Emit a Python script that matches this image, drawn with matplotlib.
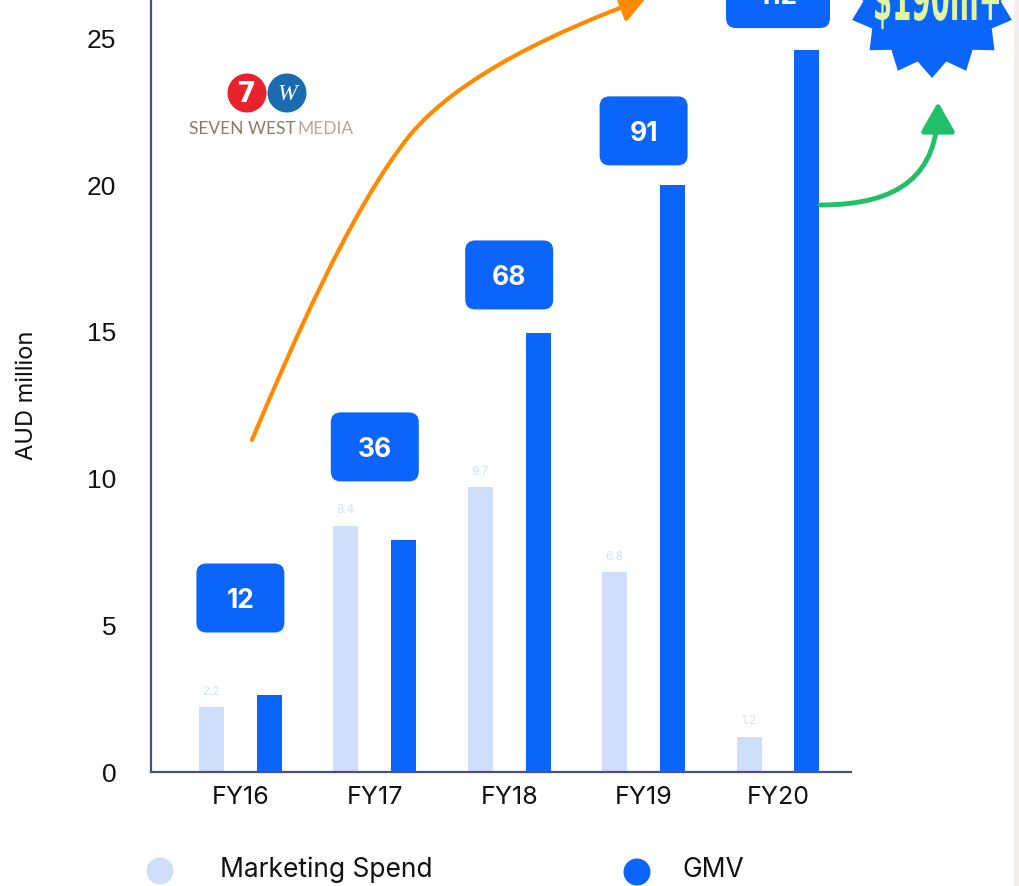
import matplotlib
matplotlib.use("Agg")
import matplotlib.pyplot as plt
import matplotlib.transforms as mtransforms
from matplotlib.patches import FancyBboxPatch, Circle, Polygon, FancyArrowPatch, PathPatch, Rectangle
from matplotlib.path import Path
from matplotlib.textpath import TextPath
from matplotlib.font_manager import FontProperties
import numpy as np

# ---- data -------------------------------------------------------------
years = ["FY16", "FY17", "FY18", "FY19", "FY20"]
marketing_spend = [2.2, 8.4, 9.7, 6.8, 1.2]      # AUD million
gmv = [12, 36, 68, 91, 112]                      # AUD million
gmv_scale = 4.55                                  # GMV drawn on a compressed secondary scale
y_ticks = [0, 5, 10, 15, 20, 25]
target_label = "$190m+"

# ---- style ------------------------------------------------------------
C_LIGHT = "#cfdffb"
C_BLUE = "#0b65fa"
C_AXIS = "#4b4f7e"
C_ORANGE = "#ff8a00"
C_GREEN = "#22bf6a"
FONT = ["Inter", "DejaVu Sans"]

W, H = 1019, 886
fig = plt.figure(figsize=(W / 100, H / 100), dpi=100)

ax_left, ax_right, ax_bottom = 151, 851, 772
ax = fig.add_axes([ax_left / W, 1 - ax_bottom / H, (ax_right - ax_left) / W, ax_bottom / H])
ymax = 26.31
ax.set_ylim(0, ymax)
ax.set_xlim(-0.665, 4.543)

x = np.arange(len(years))
bw = 0.186
off = 0.2155

ax.bar(x - off, marketing_spend, width=bw, color=C_LIGHT, zorder=2)

ax2 = ax.twinx()
ax2.set_ylim(0, ymax * gmv_scale)
ax2.set_xlim(ax.get_xlim())
ax2.bar(x + off, gmv, width=bw, color=C_BLUE, zorder=2)
ax2.axis("off")

for s in ["top", "right"]:
    ax.spines[s].set_visible(False)
for s in ["left", "bottom"]:
    ax.spines[s].set_color(C_AXIS)
    ax.spines[s].set_linewidth(1.6)

ax.set_yticks(y_ticks)
ax.set_yticklabels([str(t) for t in y_ticks], fontsize=19, family="Liberation Sans", color="#111111")
ax.tick_params(axis="y", length=0, pad=25)
ax.set_xticks(x)
ax.set_xticklabels(years, fontsize=18, family=FONT, color="#111111")
ax.tick_params(axis="x", length=0, pad=10)
ax.set_ylabel("AUD million", fontsize=17, family=FONT, color="#111111")
ax.yaxis.set_label_coords(-0.162, 0.488)

# value labels on the marketing bars
for xi, v in zip(x, marketing_spend):
    ax.annotate(f"{v}", (xi - off, v), xytext=(0, 7), textcoords="offset points",
                ha="center", va="bottom", fontsize=8.5, color="#d3e1fb", family=FONT)

# GMV callout boxes
box_y = [5.93, 11.08, 16.94, 21.85, 26.53]
for xi, v, yb in zip(x, gmv, box_y):
    label = f"{v}"
    wpx = 88 if len(label) < 3 else 104
    hpx = 69
    tr = mtransforms.Affine2D() + mtransforms.ScaledTranslation(xi, yb, ax.transData)
    box = FancyBboxPatch((-wpx / 2 + 10, -hpx / 2 + 10), wpx - 20, hpx - 20,
                         boxstyle="round,pad=10", fc=C_BLUE, ec="none",
                         transform=tr, clip_on=False, zorder=5)
    ax.add_patch(box)
    ax.text(xi, yb, label, ha="center", va="center_baseline", fontsize=19,
            fontweight="bold", color="white", family=FONT, zorder=6, clip_on=False)

# ---- decorations in pixel space ------------------------------------------
deco = fig.add_axes([0, 0, 1, 1], zorder=10)
deco.set_xlim(0, W)
deco.set_ylim(H, 0)
deco.axis("off")
deco.patch.set_alpha(0)

# right page edge
deco.add_patch(Rectangle((1014, 0), 5, H, fc="#f4eeea", ec="none"))

# growth arrow (orange)
verts = [(252, 440), (290, 350), (350, 210), (410, 135), (460, 75), (560, 30), (646, -2)]
codes = [Path.MOVETO] + [Path.CURVE4] * 6
deco.add_patch(FancyArrowPatch(path=Path(verts, codes), arrowstyle="-|>,head_length=12,head_width=7",
                               color=C_ORANGE, lw=3, mutation_scale=1.3))

# target arrow (green)
verts_g = [(820, 205), (900, 205), (938, 175), (938, 102)]
deco.add_patch(FancyArrowPatch(path=Path(verts_g, [Path.MOVETO] + [Path.CURVE4] * 3),
                               arrowstyle="-|>,head_length=14,head_width=8",
                               color=C_GREEN, lw=3.5, mutation_scale=1.3))

# starburst badge
cx, cy, r_out, r_in, n = 932, -6, 84, 69, 15
ang = np.pi / 2 + np.arange(2 * n) * np.pi / n
rad = np.where(np.arange(2 * n) % 2 == 0, r_out, r_in)
deco.add_patch(Polygon(np.c_[cx + rad * np.cos(ang), cy + rad * np.sin(ang)], fc=C_BLUE, ec="none"))

# condensed badge lettering
tp = TextPath((0, 0), target_label, size=62,
              prop=FontProperties(family="DejaVu Sans", weight="bold"))
ext = tp.get_extents()
sx = 124 / ext.width
badge_tr = mtransforms.Affine2D().translate(-ext.x0, 0).scale(sx, -1).translate(875, 20)
deco.add_patch(PathPatch(badge_tr.transform_path(tp), fc="#e0f59c", ec="none"))

# logo
deco.add_patch(Circle((247, 93), 19.5, fc="#e8232c", ec="none"))
deco.add_patch(Circle((287, 93), 19.5, fc="#1a6bb0", ec="none"))
deco.text(246, 94, "7", ha="center", va="center", fontsize=20, fontweight="bold",
          color="white", family="DejaVu Sans")
deco.text(287, 94, "W", ha="center", va="center", fontsize=17, fontstyle="italic",
          color="white", family="Liberation Serif")
deco.text(189, 129, "SEVEN WEST", ha="left", va="center", fontsize=12.5, color="#867b70",
          family="Lato")
deco.text(297, 129, "MEDIA", ha="left", va="center", fontsize=12.5, color="#b1a8a0", family="Lato")

# legend
deco.add_patch(Circle((160, 871), 13.5, fc=C_LIGHT, ec="none"))
deco.text(220, 870, "Marketing Spend", ha="left", va="center", fontsize=19, family=FONT, color="#111111")
deco.add_patch(Circle((637, 872), 13.5, fc=C_BLUE, ec="none"))
deco.text(682, 870, "GMV", ha="left", va="center", fontsize=19, family=FONT, color="#111111")

fig.savefig("out.png", dpi=100)
